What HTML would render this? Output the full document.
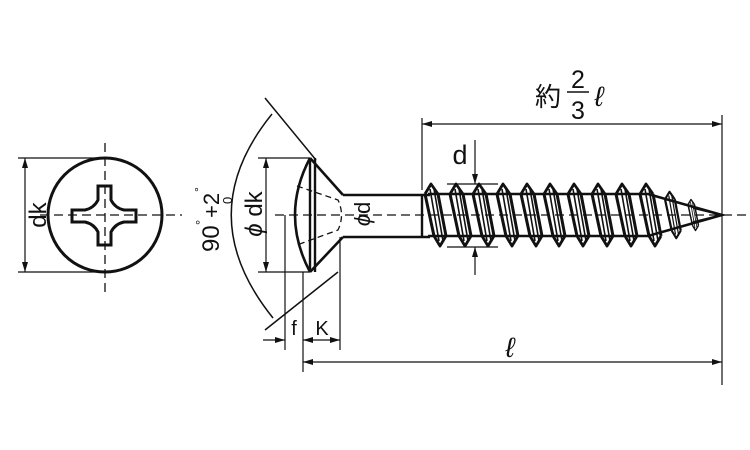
<!DOCTYPE html>
<html><head><meta charset="utf-8"><style>
html,body{margin:0;padding:0;background:#fff;}
svg{display:block;}
text{font-family:"Liberation Sans","Noto Sans CJK JP",sans-serif;fill:#111;}
</style></head><body>
<svg width="750" height="450" viewBox="0 0 750 450" xmlns="http://www.w3.org/2000/svg">
<defs>
<marker id="a" viewBox="0 0 10 6" refX="10" refY="3" markerWidth="10" markerHeight="6" orient="auto-start-reverse" markerUnits="userSpaceOnUse"><path d="M0,0 L10,3 L0,6 z" fill="#111"/></marker>
<g id="th">
<path d="M-8,-21 L-2,-31 L5,-21 M1,21 L7,31 L13,21" fill="none" stroke="#111" stroke-width="2.8" stroke-linejoin="round"/>
<path d="M-8,-21 L1,21 M5,-21 L13,21" stroke="#111" stroke-width="3"/>
<path d="M-3,-26 L6,26 M1,-26 L10,26" stroke="#111" stroke-width="1.6"/>
</g>
</defs>
<g stroke="#111" fill="none">
<circle cx="105" cy="215" r="57" stroke-width="3"/>
<path d="M40,215 H182 M105,143 V292" stroke-width="1.3" stroke-dasharray="9,5"/>
<path d="M18,158 H105 M18,272 H105" stroke-width="1.2"/>
<line x1="25" y1="158" x2="25" y2="272" stroke-width="1.2" marker-start="url(#a)" marker-end="url(#a)"/>
<path d="M98,186 h13 v14 q4,8 13,10 h12 v12 h-12 q-9,2 -13,10 v13 h-13 v-13 q-4,-8 -13,-10 h-13 v-12 h13 q9,-2 13,-10 z" stroke-width="3"/>
<path d="M310,158 Q280,215 310,272" stroke-width="2.6"/>
<path d="M310,158 V272 M315,158 V272" stroke-width="2.4"/>
<path d="M310,158 L343,195 M310,272 L343,237" stroke-width="2.6"/>
<path d="M297,186 L338,200 Q345,215 338,230 L297,245" stroke-width="1.3" stroke-dasharray="6,4"/>
<path d="M343,195 H430 M343,237 H430" stroke-width="2.6"/>
<path d="M422,195 V237" stroke-width="2.4"/>
<path d="M428,194 H648 L722,215 L648,236 H428" stroke-width="2.6"/>
<use href="#th" x="433" y="215"/><use href="#th" x="458" y="215"/><use href="#th" x="481" y="215"/>
<use href="#th" x="505" y="215"/><use href="#th" x="529" y="215"/><use href="#th" x="552" y="215"/>
<use href="#th" x="576" y="215"/><use href="#th" x="600" y="215"/><use href="#th" x="624" y="215"/>
<use href="#th" x="648" y="215"/>
<g transform="translate(671,215) scale(0.75)"><use href="#th"/></g>
<g transform="translate(692,215) scale(0.5)"><use href="#th"/></g>
<path d="M693,208 L722,215 L693,222" stroke-width="1.8"/>
<path d="M275,215 H750" stroke-width="1.3" stroke-dasharray="9,5"/>
<path d="M265,98 L316,160 M338,272 L265,330" stroke-width="1.5"/>
<path d="M272,114 Q190,215 273,318" stroke-width="1.5"/>
<path d="M258,158 H310 M258,272 H310" stroke-width="1.2"/>
<line x1="266" y1="158" x2="266" y2="272" stroke-width="1.2" marker-start="url(#a)" marker-end="url(#a)"/>
<path d="M285,215 V350 M303,272 V372 M340,237 V350" stroke-width="1.2"/>
<line x1="263" y1="340" x2="285" y2="340" stroke-width="1.2" marker-end="url(#a)"/>
<line x1="303" y1="340" x2="340" y2="340" stroke-width="1.2" marker-start="url(#a)" marker-end="url(#a)"/>
<line x1="303" y1="362" x2="722" y2="362" stroke-width="1.2" marker-start="url(#a)" marker-end="url(#a)"/>
<path d="M722,115 V385 M422,118 V190" stroke-width="1.2"/>
<line x1="422" y1="124" x2="722" y2="124" stroke-width="1.2" marker-start="url(#a)" marker-end="url(#a)"/>
<path d="M447,184 H498 M447,247 H498" stroke-width="1.2"/>
<line x1="475" y1="140" x2="475" y2="184" stroke-width="1.2" marker-end="url(#a)"/>
<line x1="475" y1="275" x2="475" y2="247" stroke-width="1.2" marker-end="url(#a)"/>
<path d="M567,92 H589" stroke-width="1.5"/>
</g>
<text x="38" y="215" font-size="24" text-anchor="middle" transform="rotate(-90 38 215)" dy="8">dk</text>
<text x="254" y="214" font-size="24" text-anchor="middle" transform="rotate(-90 254 214)" dy="8"><tspan font-style="italic">ϕ</tspan> dk</text>
<text x="362" y="214" font-size="22" text-anchor="middle" transform="rotate(-90 362 214)" dy="8"><tspan font-style="italic">ϕ</tspan>d</text>
<g transform="rotate(-90 210 214)">
<text x="172" y="223" font-size="24">90</text>
<text x="199" y="209" font-size="13">°</text>
<text x="206" y="223" font-size="22">+2</text>
<text x="232" y="207" font-size="12">°</text>
<text x="220" y="236" font-size="13">0</text>
</g>
<text x="294" y="335" font-size="20" text-anchor="middle">f</text>
<text x="322" y="335" font-size="20" text-anchor="middle">K</text>
<text x="510" y="357" font-size="28" text-anchor="middle" font-style="italic">ℓ</text>
<text x="460" y="164" font-size="27" text-anchor="middle">d</text>
<text x="535" y="106" font-size="26">約</text>
<text x="578" y="88" font-size="25" text-anchor="middle">2</text>
<text x="578" y="119" font-size="25" text-anchor="middle">3</text>
<text x="599" y="106" font-size="28" text-anchor="middle" font-style="italic">ℓ</text>
</svg>
</body></html>
